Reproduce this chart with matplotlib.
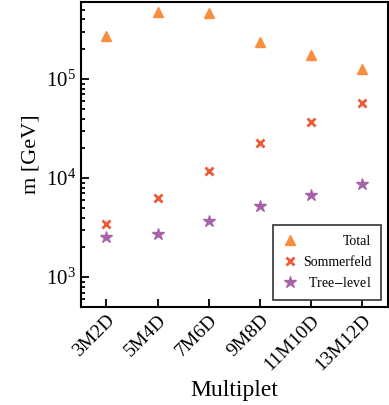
import matplotlib
matplotlib.use("Agg")
import matplotlib.pyplot as plt

multiplets = ["3M2D", "5M4D", "7M6D", "9M8D", "11M10D", "13M12D"]
total = [2.71e5, 4.8e5, 4.63e5, 2.38e5, 1.76e5, 1.25e5]
sommerfeld = [3.47e3, 6.3e3, 1.17e4, 2.24e4, 3.66e4, 5.73e4]
tree_level = [2.53e3, 2.73e3, 3.66e3, 5.19e3, 6.74e3, 8.63e3]

plt.rcParams["font.family"] = "Liberation Serif"
plt.rcParams["mathtext.fontset"] = "stix"

fig = plt.figure(figsize=(3.89, 4.05), dpi=100)
ax = fig.add_axes([0.208, 0.242, 0.789, 0.753])

x = list(range(len(multiplets)))
ax.plot(x, total, ls="none", marker="^", ms=7.5, color="#f98e3f", label="Total")
ax.plot(x, sommerfeld, ls="none", marker="x", ms=6, mew=2, color="#ec5a37", label="Sommerfeld")
ax.plot(x, tree_level, ls="none", marker="*", ms=9, color="#a862a8", label="Tree$-$level")

ax.set_yscale("log")
ax.set_ylim(500, 6e5)
ax.set_xlim(-0.5, 5.5)
ax.set_xticks(x)
ax.set_xticklabels(multiplets, rotation=45, ha="right", rotation_mode="anchor", fontsize=14)
ax.tick_params(axis="y", labelsize=15)
ax.tick_params(which="both", direction="in", width=1.3)
ax.tick_params(which="major", length=6)
ax.tick_params(which="minor", length=3)
for s in ax.spines.values():
    s.set_linewidth(1.5)

ax.set_xlabel("Multiplet", fontsize=17, labelpad=4)
ax.set_ylabel("m [GeV]", fontsize=16)

leg = ax.legend(loc="lower right", fontsize=10, handlelength=1.0, handletextpad=0.8,
                labelspacing=0.55, borderaxespad=0.5, borderpad=0.7, fancybox=False,
                edgecolor="#333333", framealpha=1)
leg.get_frame().set_linewidth(1.2)
# right-align the labels inside the legend box
for col in leg._legend_handle_box.get_children():
    for row in col.get_children():
        row.mode = "expand"
        row.width = 88

fig.savefig("out.png", dpi=100)
